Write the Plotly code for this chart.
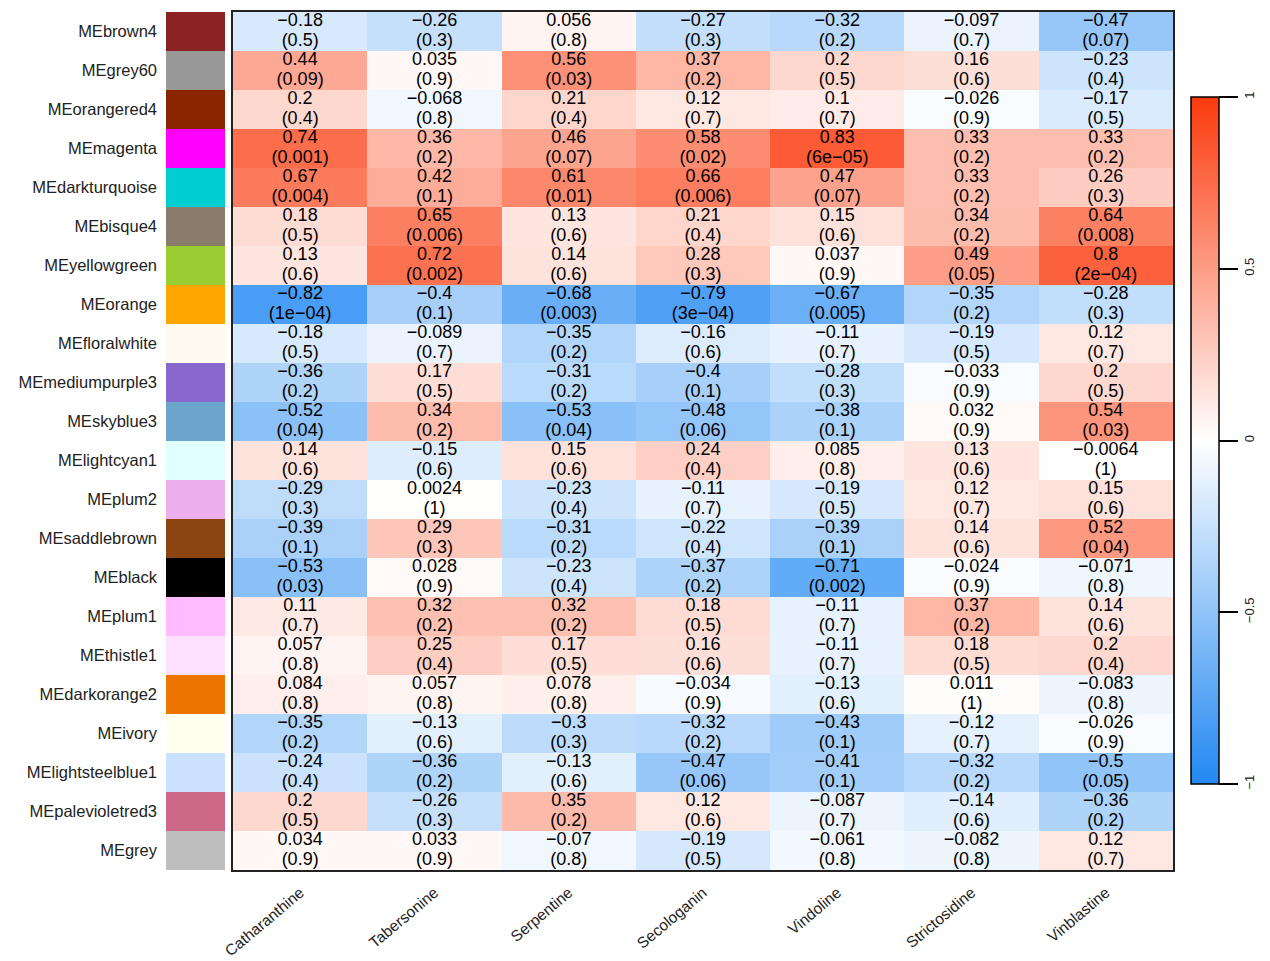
import numpy as np
import plotly.graph_objects as go

# Module eigengenes (rows) and metabolite traits (columns)
modules = [
    "MEbrown4", "MEgrey60", "MEorangered4", "MEmagenta", "MEdarkturquoise",
    "MEbisque4", "MEyellowgreen", "MEorange", "MEfloralwhite", "MEmediumpurple3",
    "MEskyblue3", "MElightcyan1", "MEplum2", "MEsaddlebrown", "MEblack",
    "MEplum1", "MEthistle1", "MEdarkorange2", "MEivory", "MElightsteelblue1",
    "MEpalevioletred3", "MEgrey",
]
traits = ["Catharanthine", "Tabersonine", "Serpentine", "Secologanin",
          "Vindoline", "Strictosidine", "Vinblastine"]

# Module-trait correlations
corr = [
    [-0.18, -0.26, 0.056, -0.27, -0.32, -0.097, -0.47],
    [0.44, 0.035, 0.56, 0.37, 0.2, 0.16, -0.23],
    [0.2, -0.068, 0.21, 0.12, 0.1, -0.026, -0.17],
    [0.74, 0.36, 0.46, 0.58, 0.83, 0.33, 0.33],
    [0.67, 0.42, 0.61, 0.66, 0.47, 0.33, 0.26],
    [0.18, 0.65, 0.13, 0.21, 0.15, 0.34, 0.64],
    [0.13, 0.72, 0.14, 0.28, 0.037, 0.49, 0.8],
    [-0.82, -0.4, -0.68, -0.79, -0.67, -0.35, -0.28],
    [-0.18, -0.089, -0.35, -0.16, -0.11, -0.19, 0.12],
    [-0.36, 0.17, -0.31, -0.4, -0.28, -0.033, 0.2],
    [-0.52, 0.34, -0.53, -0.48, -0.38, 0.032, 0.54],
    [0.14, -0.15, 0.15, 0.24, 0.085, 0.13, -0.0064],
    [-0.29, 0.0024, -0.23, -0.11, -0.19, 0.12, 0.15],
    [-0.39, 0.29, -0.31, -0.22, -0.39, 0.14, 0.52],
    [-0.53, 0.028, -0.23, -0.37, -0.71, -0.024, -0.071],
    [0.11, 0.32, 0.32, 0.18, -0.11, 0.37, 0.14],
    [0.057, 0.25, 0.17, 0.16, -0.11, 0.18, 0.2],
    [0.084, 0.057, 0.078, -0.034, -0.13, 0.011, -0.083],
    [-0.35, -0.13, -0.3, -0.32, -0.43, -0.12, -0.026],
    [-0.24, -0.36, -0.13, -0.47, -0.41, -0.32, -0.5],
    [0.2, -0.26, 0.35, 0.12, -0.087, -0.14, -0.36],
    [0.034, 0.033, -0.07, -0.19, -0.061, -0.082, 0.12],
]

# Corresponding p-values
pvals = [
    [0.5, 0.3, 0.8, 0.3, 0.2, 0.7, 0.07],
    [0.09, 0.9, 0.03, 0.2, 0.5, 0.6, 0.4],
    [0.4, 0.8, 0.4, 0.7, 0.7, 0.9, 0.5],
    [0.001, 0.2, 0.07, 0.02, 6e-05, 0.2, 0.2],
    [0.004, 0.1, 0.01, 0.006, 0.07, 0.2, 0.3],
    [0.5, 0.006, 0.6, 0.4, 0.6, 0.2, 0.008],
    [0.6, 0.002, 0.6, 0.3, 0.9, 0.05, 2e-04],
    [1e-04, 0.1, 0.003, 3e-04, 0.005, 0.2, 0.3],
    [0.5, 0.7, 0.2, 0.6, 0.7, 0.5, 0.7],
    [0.2, 0.5, 0.2, 0.1, 0.3, 0.9, 0.5],
    [0.04, 0.2, 0.04, 0.06, 0.1, 0.9, 0.03],
    [0.6, 0.6, 0.6, 0.4, 0.8, 0.6, 1],
    [0.3, 1, 0.4, 0.7, 0.5, 0.7, 0.6],
    [0.1, 0.3, 0.2, 0.4, 0.1, 0.6, 0.04],
    [0.03, 0.9, 0.4, 0.2, 0.002, 0.9, 0.8],
    [0.7, 0.2, 0.2, 0.5, 0.7, 0.2, 0.6],
    [0.8, 0.4, 0.5, 0.6, 0.7, 0.5, 0.4],
    [0.8, 0.8, 0.8, 0.9, 0.6, 1, 0.8],
    [0.2, 0.6, 0.3, 0.2, 0.1, 0.7, 0.9],
    [0.4, 0.2, 0.6, 0.06, 0.1, 0.2, 0.05],
    [0.5, 0.3, 0.2, 0.6, 0.7, 0.6, 0.2],
    [0.9, 0.9, 0.8, 0.5, 0.8, 0.8, 0.7],
]

colorbar_ticks = [-1, -0.5, 0, 0.5, 1]

# R colour names used for the module swatches
r_colors = {
    "brown4": "#8B2323", "grey60": "#999999", "orangered4": "#8B2500",
    "magenta": "#FF00FF", "darkturquoise": "#00CED1", "bisque4": "#8B7D6B",
    "yellowgreen": "#9ACD32", "orange": "#FFA500", "floralwhite": "#FFFAF0",
    "mediumpurple3": "#8968CD", "skyblue3": "#6CA6CD", "lightcyan1": "#E0FFFF",
    "plum2": "#EEAEEE", "saddlebrown": "#8B4513", "black": "#000000",
    "plum1": "#FFBBFF", "thistle1": "#FFE1FF", "darkorange2": "#EE7600",
    "ivory": "#FFFFF0", "lightsteelblue1": "#CAE1FF", "palevioletred3": "#CD6889",
    "grey": "#BEBEBE",
}
swatch_colors = [r_colors[m[2:]] for m in modules]

W, H = 1270, 961
FONT = "Liberation Sans, Arial, Helvetica, sans-serif"
MINUS = "\u2212"


def fmt_r(v):
    return f"{v:g}".replace("-", MINUS)


def fmt_p(v):
    s = f"{v:.0e}" if v < 0.001 else f"{v:g}"
    return "(" + s.replace("-", MINUS) + ")"


corr_arr = np.array(corr)
nrow, ncol = corr_arr.shape
cols_idx = np.arange(ncol)
rows_idx = np.arange(nrow)
cc, rr = np.meshgrid(cols_idx, rows_idx)


# Pixel layout helpers
def px_x(p):
    return p / W


def px_y(p):
    return 1 - p / H


hm_x = [px_x(233), px_x(1173)]
hm_y = [px_y(870), px_y(12)]
sw_x = [px_x(166), px_x(225)]

colorscale = [[0.0, "#2288f2"], [0.5, "#ffffff"], [1.0, "#fb3a0c"]]

fig = go.Figure()

fig.add_trace(go.Heatmap(
    z=corr_arr, x=cols_idx, y=rows_idx,
    zmin=-1, zmax=1, colorscale=colorscale,
    xgap=0, ygap=0, hoverinfo="skip",
    colorbar=dict(
        x=px_x(1191), xanchor="left", xpad=0,
        y=px_y(97), yanchor="top", ypad=0,
        len=(784 - 97) / H, lenmode="fraction",
        thickness=28, thicknessmode="pixels",
        outlinewidth=1.5, outlinecolor="black",
        tickvals=colorbar_ticks,
        ticks="outside", ticklen=19, tickwidth=2, tickcolor="black",
        tickangle=-90,
        tickfont=dict(family=FONT, size=13, color="#222"),
    ),
))

# Correlation (upper line) and p-value (lower line) labels
fig.add_trace(go.Scatter(
    x=cc.ravel(), y=(rr - 0.26).ravel(), mode="text",
    text=[fmt_r(v) for v in corr_arr.ravel()],
    textfont=dict(family=FONT, size=18, color="black"),
    hoverinfo="skip", showlegend=False,
))
fig.add_trace(go.Scatter(
    x=cc.ravel(), y=(rr + 0.25).ravel(), mode="text",
    text=[fmt_p(v) for v in np.array(pvals).ravel()],
    textfont=dict(family=FONT, size=18, color="black"),
    hoverinfo="skip", showlegend=False,
))

# Module colour swatches with row labels
fig.add_trace(go.Bar(
    x=[1] * nrow, y=rows_idx, orientation="h", width=1,
    marker=dict(color=swatch_colors, line=dict(width=0)),
    xaxis="x2", yaxis="y2", hoverinfo="skip", showlegend=False,
))

fig.update_layout(
    width=W, height=H,
    margin=dict(l=0, r=0, t=0, b=0, autoexpand=False),
    paper_bgcolor="white", plot_bgcolor="white",
    showlegend=False,
    xaxis=dict(
        domain=hm_x, range=[-0.5, ncol - 0.5],
        tickvals=cols_idx, ticktext=traits, tickangle=-40,
        tickfont=dict(family=FONT, size=15.5, color="#222"),
        ticks="", ticklabelstandoff=6,
        showgrid=False, zeroline=False, automargin=False,
        showline=True, mirror=True, linecolor="#222", linewidth=1.5,
        anchor="y",
    ),
    yaxis=dict(
        domain=hm_y, range=[nrow - 0.5, -0.5],
        showticklabels=False, ticks="",
        showgrid=False, zeroline=False, automargin=False,
        showline=True, mirror=True, linecolor="#222", linewidth=1.5,
        anchor="x",
    ),
    xaxis2=dict(
        domain=sw_x, range=[0, 1], visible=False, anchor="y2",
        automargin=False,
    ),
    yaxis2=dict(
        domain=hm_y, range=[nrow - 0.5, -0.5], anchor="x2",
        tickvals=rows_idx, ticktext=modules,
        tickfont=dict(family=FONT, size=16.5, color="#222"),
        ticks="", ticklabelstandoff=8, automargin=False,
        showgrid=False, zeroline=False, showline=False,
    ),
)

fig.write_html("out.html")
